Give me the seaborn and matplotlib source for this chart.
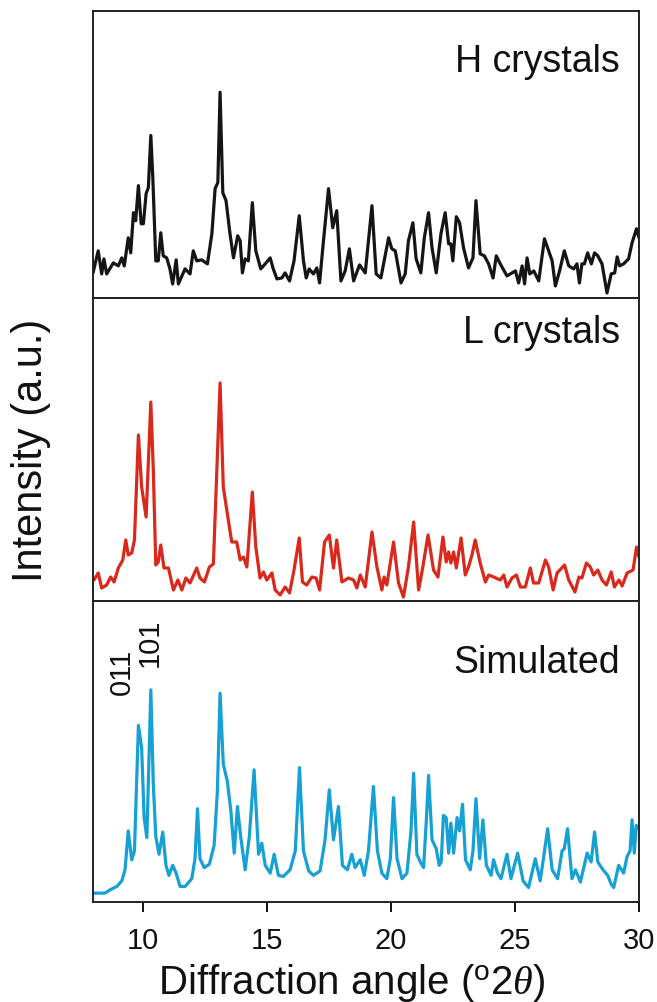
import numpy as np
import pandas as pd
import matplotlib
matplotlib.use("Agg")
import matplotlib.pyplot as plt
import seaborn as sns

# ---------------- data ----------------
h_x = [8.0, 8.21, 8.35, 8.44, 8.55, 8.82, 9.02, 9.16, 9.26, 9.42, 9.52, 9.63, 9.72, 9.83, 9.94,
       10.03, 10.14, 10.23, 10.33, 10.41, 10.53, 10.63, 10.73, 10.83, 10.97, 11.1, 11.21, 11.35,
       11.44, 11.71, 11.91, 12.04, 12.18, 12.38, 12.61, 12.79, 12.92, 13.03, 13.12, 13.23, 13.36,
       13.52, 13.66, 13.83, 13.93, 14.02, 14.13, 14.26, 14.42, 14.56, 14.76, 14.94, 15.14, 15.25,
       15.41, 15.61, 15.74, 15.92, 16.1, 16.31, 16.48, 16.59, 16.71, 16.88, 17.02, 17.13, 17.26,
       17.49, 17.66, 17.82, 17.99, 18.16, 18.33, 18.5, 18.74, 18.97, 19.24, 19.41, 19.6, 19.71,
       19.91, 20.04, 20.18, 20.41, 20.58, 20.71, 20.89, 21.02, 21.21, 21.35, 21.52, 21.66, 21.83,
       22.02, 22.19, 22.33, 22.42, 22.5, 22.64, 22.77, 22.93, 23.13, 23.31, 23.43, 23.6, 23.77,
       23.94, 24.12, 24.25, 24.41, 24.57, 24.68, 25.02, 25.15, 25.29, 25.39, 25.49, 25.6, 25.76,
       25.96, 26.19, 26.36, 26.5, 26.63, 26.8, 26.99, 27.17, 27.37, 27.5, 27.6, 27.7, 27.8, 27.93,
       28.08, 28.21, 28.34, 28.51, 28.71, 28.88, 29.02, 29.12, 29.22, 29.38, 29.58, 29.72, 29.9, 30.0]
h_y = [25, 47, 24, 39, 24, 35, 32, 40, 32, 60, 45, 85, 77, 112, 74,
       74, 104, 110, 162, 120, 37, 37, 65, 42, 40, 29, 14, 38,
       14, 29, 24, 47, 37, 38, 34, 64, 109, 115, 205, 105, 97,
       64, 40, 62, 57, 25, 39, 37, 95, 47, 29, 34, 40, 30,
       19, 20, 25, 17, 37, 82, 37, 20, 29, 24, 30, 15, 50,
       109, 70, 87, 17, 27, 49, 17, 33, 25, 92, 24, 20, 34,
       60, 49, 47, 15, 24, 57, 75, 39, 25, 60, 85, 50, 25,
       64, 85, 54, 54, 37, 81, 75, 50, 30, 40, 97, 44, 42,
       34, 20, 42, 34, 27, 22, 27, 15, 32, 14, 40, 24, 27,
       17, 59, 47, 37, 12, 27, 47, 32, 29, 34, 15, 34, 34, 45,
       34, 45, 42, 34, 5, 24, 25, 41, 32, 34, 39, 55, 69, 60]

l_x = [8.04, 8.21, 8.35, 8.55, 8.71, 8.85, 9.02, 9.2, 9.32, 9.42, 9.56, 9.67, 9.83, 9.96,
       10.14, 10.33, 10.43, 10.53, 10.63, 10.73, 10.86, 11.04, 11.24, 11.42, 11.58, 11.74,
       11.91, 12.18, 12.31, 12.49, 12.69, 12.85, 13.12, 13.25, 13.39, 13.59, 13.79, 13.93,
       14.06, 14.2, 14.42, 14.56, 14.73, 14.87, 15.0, 15.21, 15.34, 15.54, 15.74, 15.92,
       16.1, 16.31, 16.44, 16.61, 16.82, 16.99, 17.13, 17.33, 17.52, 17.69, 17.82, 18.03,
       18.29, 18.5, 18.63, 18.77, 18.97, 19.24, 19.44, 19.64, 19.73, 19.84, 20.11, 20.31,
       20.51, 20.71, 20.92, 21.12, 21.29, 21.5, 21.72, 21.9, 22.1, 22.23, 22.33, 22.42,
       22.53, 22.64, 22.83, 23.0, 23.13, 23.27, 23.4, 23.6, 23.81, 23.94, 24.14, 24.41,
       24.55, 24.68, 24.88, 25.06, 25.22, 25.42, 25.62, 25.75, 25.96, 26.23, 26.36, 26.54,
       26.7, 27.0, 27.17, 27.42, 27.58, 27.7, 27.88, 28.04, 28.17, 28.34, 28.51, 28.69,
       28.88, 29.01, 29.19, 29.32, 29.52, 29.76, 29.9, 30.0]
l_y = [21, 28, 13, 16, 24, 19, 33, 41, 61, 46, 48, 61, 166, 114,
       84, 199, 131, 36, 39, 56, 33, 33, 11, 21, 11, 23,
       18, 33, 23, 19, 34, 37, 218, 114, 91, 59, 59, 41,
       44, 34, 109, 54, 23, 29, 21, 28, 11, 6, 14, 8,
       31, 63, 19, 16, 24, 23, 11, 59, 66, 33, 61, 19,
       23, 21, 13, 26, 14, 69, 34, 11, 24, 16, 59, 18,
       4, 34, 79, 11, 34, 66, 31, 24, 64, 39, 49, 38,
       49, 33, 63, 26, 34, 46, 61, 38, 19, 26, 24, 21,
       26, 14, 23, 26, 14, 14, 33, 18, 18, 41, 34, 11,
       28, 36, 21, 9, 24, 23, 38, 34, 26, 31, 21, 16,
       29, 14, 21, 15, 28, 31, 54, 44]

s_x = [8.01, 8.48, 8.69, 8.96, 9.16, 9.29, 9.42, 9.56, 9.67, 9.83, 9.96, 10.06, 10.17, 10.33,
       10.43, 10.53, 10.66, 10.81, 10.94, 11.06, 11.21, 11.35, 11.51, 11.71, 11.98, 12.11,
       12.21, 12.31, 12.48, 12.69, 12.88, 13.01, 13.12, 13.25, 13.41, 13.55, 13.69, 13.82,
       13.95, 14.13, 14.3, 14.49, 14.67, 14.8, 14.94, 15.14, 15.3, 15.47, 15.67, 15.94, 16.15,
       16.32, 16.48, 16.69, 16.88, 17.15, 17.35, 17.52, 17.69, 17.89, 18.05, 18.25, 18.43,
       18.56, 18.77, 18.93, 19.1, 19.3, 19.46, 19.64, 19.84, 19.98, 20.11, 20.25, 20.45,
       20.65, 20.81, 20.92, 21.05, 21.19, 21.32, 21.43, 21.52, 21.66, 21.83, 21.95, 22.03,
       22.12, 22.23, 22.33, 22.42, 22.53, 22.67, 22.77, 22.89, 23.01, 23.2, 23.31, 23.43,
       23.58, 23.71, 23.85, 24.04, 24.14, 24.3, 24.44, 24.68, 24.84, 25.11, 25.33, 25.55,
       25.82, 26.02, 26.32, 26.5, 26.72, 26.9, 26.99, 27.12, 27.3, 27.44, 27.64, 27.91,
       28.07, 28.21, 28.34, 28.55, 28.74, 28.88, 28.98, 29.18, 29.38, 29.52, 29.64, 29.72,
       29.81, 29.89, 29.99]
s_y = [8, 8, 11, 14, 19, 29, 64, 38, 46, 159, 139, 76, 58, 191,
       106, 59, 43, 63, 33, 24, 33, 26, 14, 14, 21, 39,
       84, 39, 31, 34, 51, 99, 188, 124, 109, 83, 44, 86,
       59, 29, 59, 119, 43, 53, 33, 26, 43, 24, 23, 29, 46,
       121, 46, 28, 24, 28, 56, 101, 56, 86, 33, 29, 43,
       31, 38, 24, 46, 104, 46, 26, 21, 39, 94, 39, 21,
       26, 63, 116, 43, 36, 31, 73, 114, 56, 48, 33, 36,
       78, 76, 44, 71, 44, 76, 64, 88, 38, 29, 46, 93,
       39, 74, 33, 24, 38, 26, 21, 43, 21, 44, 19, 13,
       39, 19, 66, 29, 21, 46, 48, 66, 21, 29, 18, 44,
       36, 63, 36, 29, 24, 16, 13, 33, 26, 41, 46, 74,
       44, 69, 66]

panel_labels = ["H crystals", "L crystals", "Simulated"]
hkl_labels = ["011", "101"]
hkl_x = [9.17, 10.28]
hkl_y = [186, 212]
x_ticks = [10, 15, 20, 25, 30]

# ---------------- style ----------------
sns.set_style("white")
plt.rcParams["font.family"] = ["Liberation Sans", "DejaVu Sans"]
plt.rcParams["mathtext.fontset"] = "custom"
plt.rcParams["mathtext.rm"] = "Liberation Sans"
plt.rcParams["mathtext.it"] = "Liberation Serif:italic"

colors = ["#151515", "#d9291c", "#17a0d4"]
panel_px = [287, 303, 301]          # physical panel heights (pixels)
y_top = [286, 303, 271]             # data range of each panel

fig = plt.figure(figsize=(6.57, 10.02), dpi=100)
gs = fig.add_gridspec(3, 1, height_ratios=panel_px, hspace=0,
                      left=93 / 657, right=639 / 657, top=1 - 11 / 1002, bottom=1 - 902 / 1002)
axes = [fig.add_subplot(gs[i]) for i in range(3)]

series = [(h_x, h_y), (l_x, l_y), (s_x, s_y)]
label_y = [0.822, 0.885, 0.795]
for i, ax in enumerate(axes):
    df = pd.DataFrame({"x": series[i][0], "y": series[i][1]})
    sns.lineplot(data=df, x="x", y="y", ax=ax, color=colors[i], linewidth=2.3,
                 estimator=None, sort=False)
    ax.set_xlim(8, 30)
    ax.set_ylim(0, y_top[i])
    ax.set_yticks([])
    ax.set_xlabel("")
    ax.set_ylabel("")
    for sp in ax.spines.values():
        sp.set_visible(True)
        sp.set_linewidth(1.4)
        sp.set_color("#222222")
    ax.text(0.965, label_y[i], panel_labels[i], transform=ax.transAxes,
            ha="right", va="center", fontsize=27, color="#111111")
    ax.set_xticks(x_ticks)
    if i < 2:
        ax.tick_params(axis="x", bottom=False, labelbottom=False)
    else:
        ax.set_xticklabels([str(t) for t in x_ticks])
        ax.tick_params(axis="x", bottom=True, direction="out", length=7, width=1.4,
                       labelsize=21, pad=11, colors="#111111")

for lab, xx, yy in zip(hkl_labels, hkl_x, hkl_y):
    axes[2].text(xx, yy, lab, rotation=90, ha="center", va="bottom", fontsize=21,
                 color="#111111")

fig.text(352 / 657, 1 - 994 / 1002, r"Diffraction angle ($^{\mathrm{o}}$2$\mathit{\theta}$)",
         ha="center", va="baseline", fontsize=29, color="#111111")
fig.text(31 / 657, 1 - 450 / 1002, "Intensity (a.u.)", rotation=90,
         ha="center", va="center", fontsize=30, color="#111111")

fig.savefig("out.png", dpi=100)
